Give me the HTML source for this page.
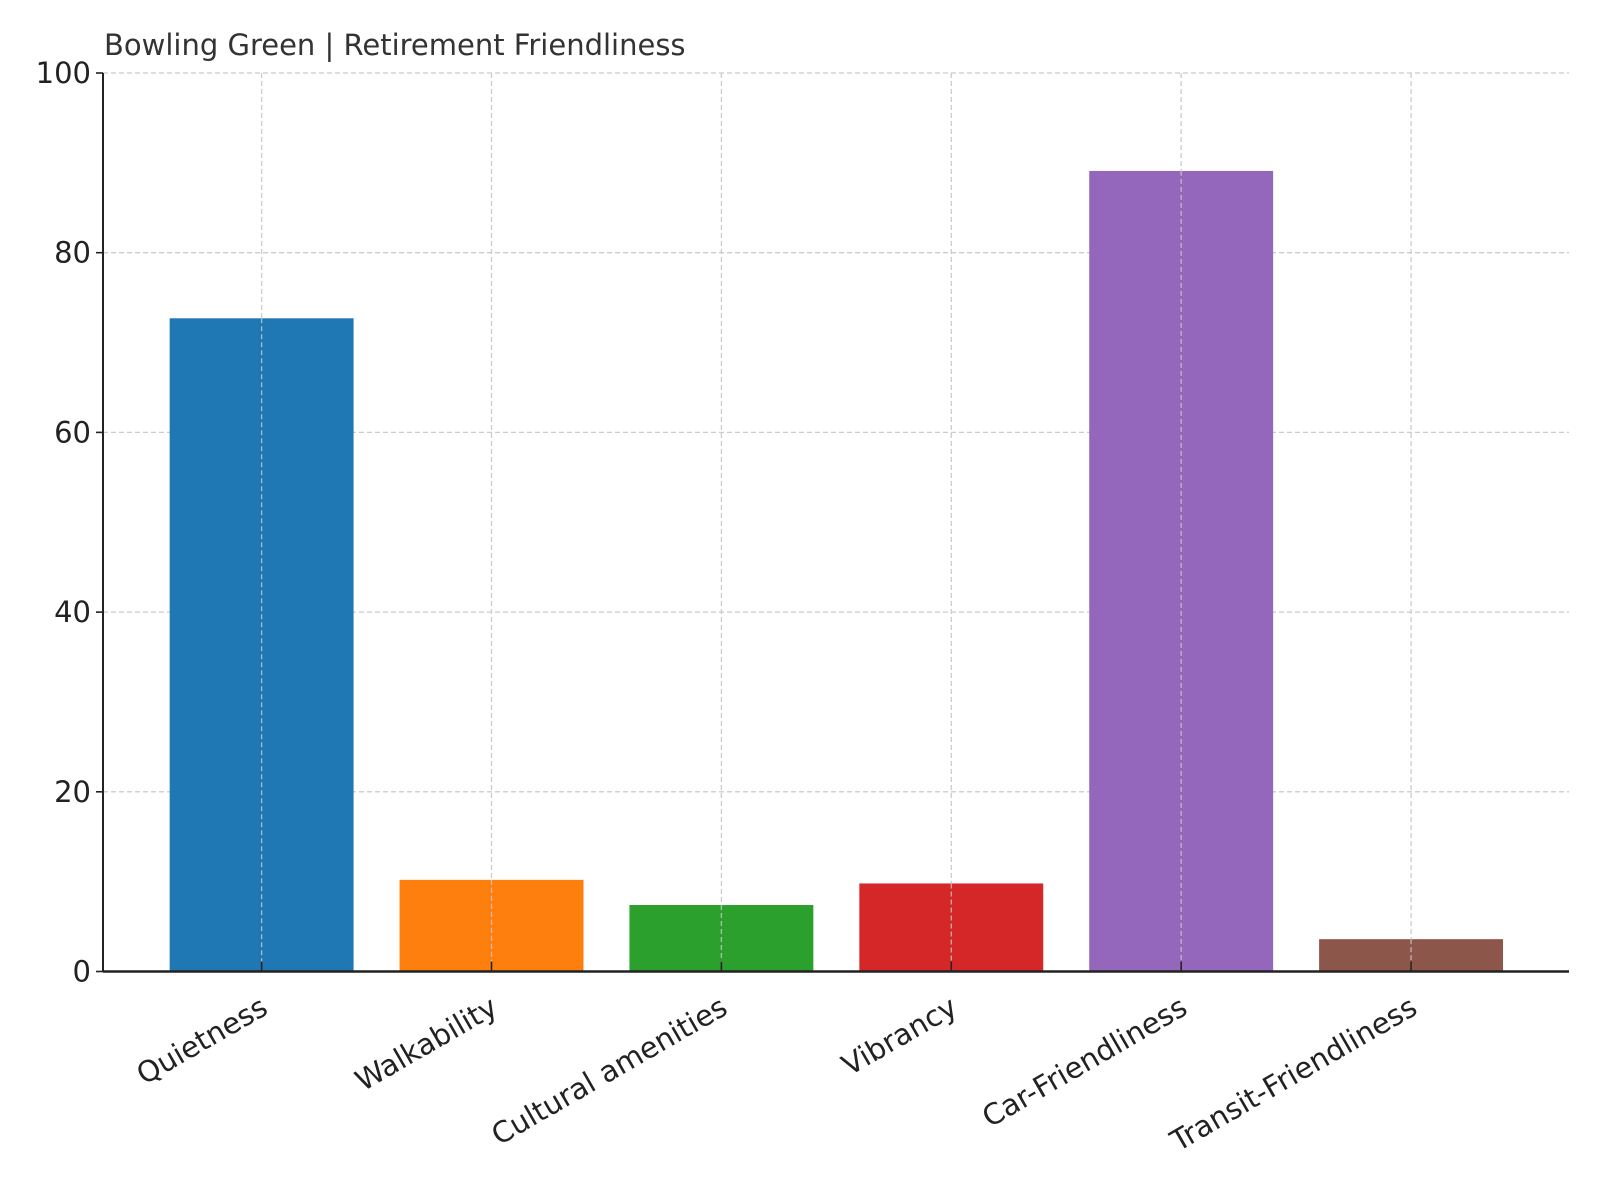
<!DOCTYPE html>
<html><head><meta charset="utf-8"><style>
html,body{margin:0;padding:0;background:#fff;}
svg{display:block;font-family:"DejaVu Sans","Liberation Sans",sans-serif;}
</style></head><body>
<svg id="chart" width="1600" height="1200" viewBox="0 0 1600 1200" xmlns="http://www.w3.org/2000/svg">
<rect width="1600" height="1200" fill="#fff"/>
<text x="104" y="55" font-size="29" fill="#333">Bowling Green | Retirement Friendliness</text>
<g id="grid"></g><g id="bars"></g><g id="axes"></g>
</svg>
<script>
const categories = ["Quietness","Walkability","Cultural amenities","Vibrancy","Car-Friendliness","Transit-Friendliness"];
const values = [72.7, 10.2, 7.4, 9.8, 89.1, 3.6];
const colors = ["#1f77b4","#ff7f0e","#2ca02c","#d62728","#9467bd","#8c564b"];
const yTicks = [0,20,40,60,80,100];
const NS="http://www.w3.org/2000/svg";
const L=103,R=1569,T=73,B=971.5;
const xMin=-0.69,xMax=5.687,yMin=0,yMax=100;
const xs=v=>L+(v-xMin)/(xMax-xMin)*(R-L);
const ys=v=>B-(v-yMin)/(yMax-yMin)*(B-T);
function mk(tag,attrs,parent){const e=document.createElementNS(NS,tag);for(const k in attrs)e.setAttribute(k,attrs[k]);parent.appendChild(e);return e;}
const grid=document.getElementById('grid'),bars=document.getElementById('bars'),axes=document.getElementById('axes');
yTicks.forEach(t=>{
  const g=mk('line',{x1:L,x2:R,y1:ys(t),y2:ys(t),stroke:'#cccccc','stroke-width':1.3,'stroke-dasharray':'5,3'},grid);
  
  
  const tk=mk('line',{x1:L-7,x2:L,y1:ys(t),y2:ys(t),stroke:'#222','stroke-width':1.6},axes);
  
  
  const lb=mk('text',{x:L-12,y:ys(t)+10,'text-anchor':'end','font-size':29,fill:'#222'},axes);
  lb.textContent=t;
  
  
});
categories.forEach((c,i)=>{
  const g=mk('line',{x1:xs(i),x2:xs(i),y1:T,y2:B,stroke:'#cccccc','stroke-width':1.3,'stroke-dasharray':'5,3'},grid);
  
  
  const w=xs(0.4)-xs(0);
  const b=mk('rect',{x:xs(i)-w,y:ys(values[i]),width:2*w,height:B-ys(values[i]),fill:colors[i]},bars);
  
  
  const vg=mk('line',{x1:xs(i),x2:xs(i),y1:ys(values[i]),y2:B,stroke:'#cccccc','stroke-width':1.3,'stroke-dasharray':'5,3','stroke-opacity':0.8},bars);
  
  
  const tk=mk('line',{x1:xs(i),x2:xs(i),y1:B-10,y2:B,stroke:'#222','stroke-width':1.6},axes);
  
  
  const lb=mk('text',{x:0,y:0,'text-anchor':'end','font-size':29,fill:'#222',transform:`translate(${xs(i)-2},${B+24}) rotate(-30) translate(0,20)`},axes);
  lb.textContent=c;
  
  
});
const ya=mk('line',{x1:L,x2:L,y1:T,y2:B,stroke:'#222','stroke-width':2},axes);


const xa=mk('line',{x1:L,x2:R,y1:B,y2:B,stroke:'#222','stroke-width':2.5},axes);


</script>
</body></html>
